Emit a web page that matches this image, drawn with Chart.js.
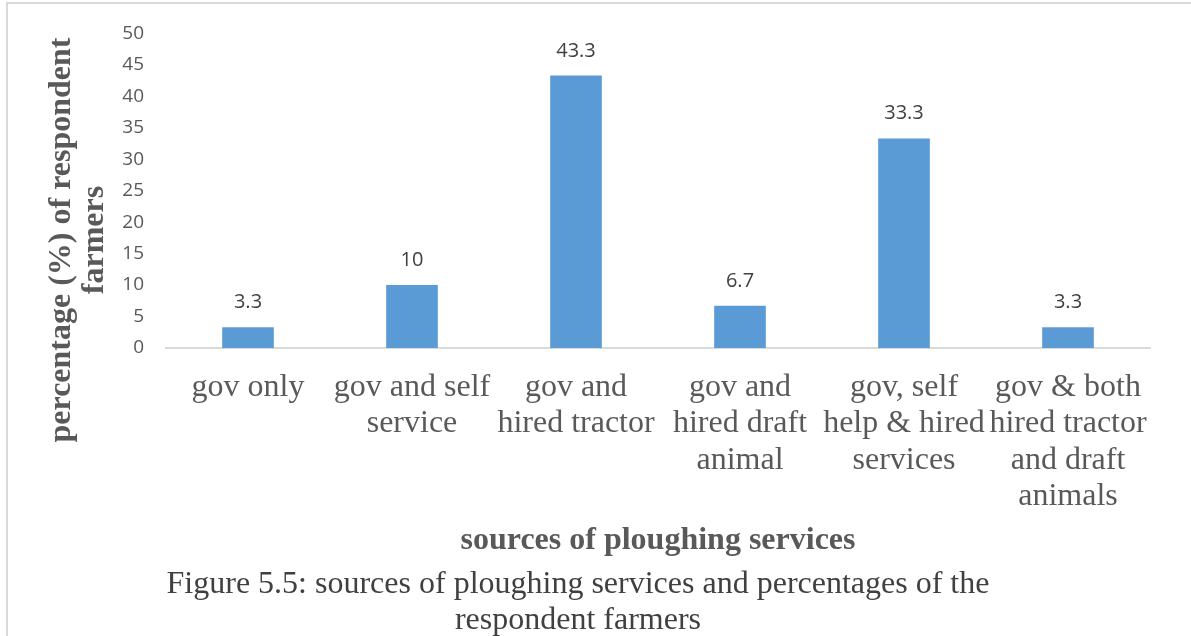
<!DOCTYPE html>
<html>
<head>
<meta charset="utf-8">
<script src="https://cdn.jsdelivr.net/npm/chart.js@4"></script>
<style>
  body { margin: 0; background: #fff; }
  #wrap { position: relative; width: 1191px; height: 636px; }
  #frame { position: absolute; left: 6px; top: 2px; right: 0; bottom: 0;
           border-top: 2px solid #d9d9d9; border-left: 2px solid #d9d9d9; }
  .cap { position: absolute; left: 0; width: 1156px; text-align: center;
         font: 32px "Liberation Serif", "Times New Roman", serif; line-height: 36px; color: #404040; }
  #cap1 { top: 564px; }
  #cap2 { top: 600px; }
</style>
</head>
<body>
<div id="wrap">
  <div id="frame"></div>
  <canvas id="myChart" width="1191" height="636"></canvas>
  <div class="cap" id="cap1">Figure 5.5: sources of ploughing services and percentages of the</div>
  <div class="cap" id="cap2">respondent farmers</div>
</div>
<script>
var categories = [
  ["gov only"],
  ["gov and self", "service"],
  ["gov and", "hired tractor"],
  ["gov and", "hired draft", "animal"],
  ["gov, self", "help & hired", "services"],
  ["gov & both", "hired tractor", "and draft", "animals"]
];
var percentValues = [3.3, 10, 43.3, 6.7, 33.3, 3.3];
var barColor = "#5b9bd5";
var xTitle = "sources of ploughing services";
var yTitle = ["percentage (%) of respondent", "farmers"];

// value labels above each bar
var valueLabels = {
  id: "valueLabels",
  afterDatasetsDraw: function(chart) {
    var ctx = chart.ctx;
    var meta = chart.getDatasetMeta(0);
    ctx.save();
    ctx.font = '20px "Open Sans", sans-serif';
    ctx.fillStyle = "#404040";
    ctx.textAlign = "center";
    ctx.textBaseline = "alphabetic";
    meta.data.forEach(function(bar, i) {
      ctx.fillText(String(percentValues[i]), bar.x, bar.y - 19);
    });
    ctx.restore();
  }
};

// y axis title, placed like the original (off-centre from the plot)
var yAxisTitle = {
  id: "yAxisTitle",
  afterDraw: function(chart) {
    var ctx = chart.ctx;
    ctx.save();
    ctx.font = 'bold 32px "Liberation Serif", serif';
    ctx.fillStyle = "#595959";
    ctx.textAlign = "center";
    ctx.textBaseline = "middle";
    ctx.translate(62, 240);
    ctx.rotate(-Math.PI / 2);
    yTitle.forEach(function(line, i) {
      ctx.fillText(line, 0, i * 33);
    });
    ctx.restore();
  }
};

new Chart("myChart", {
  type: "bar",
  data: {
    labels: categories,
    datasets: [{
      data: percentValues,
      backgroundColor: barColor,
      barPercentage: 0.9,
      categoryPercentage: 0.35
    }]
  },
  options: {
    responsive: false,
    animation: false,
    layout: { padding: { left: 8, right: 41, top: 30, bottom: 76 } },
    plugins: {
      legend: { display: false },
      tooltip: { enabled: false }
    },
    scales: {
      x: {
        grid: { display: false, drawTicks: false },
        border: { color: "#d9d9d9", width: 2 },
        ticks: {
          autoSkip: false, maxRotation: 0, padding: 21,
          color: "#595959",
          font: { family: '"Liberation Serif", serif', size: 32, lineHeight: 1.14 }
        },
        title: {
          display: true, text: xTitle, color: "#595959",
          font: { family: '"Liberation Serif", serif', size: 32, weight: "bold" },
          padding: { top: 0, bottom: 0 }
        },
        afterFit: function(scale) { scale.height = 212; }
      },
      y: {
        min: 0, max: 50,
        grid: { display: false, drawTicks: false },
        border: { display: false },
        ticks: {
          stepSize: 5, padding: 22, color: "#595959",
          font: { family: '"Open Sans", sans-serif', size: 19 }
        },
        afterFit: function(scale) { scale.width = 158; }
      }
    }
  },
  plugins: [valueLabels, yAxisTitle]
});
</script>
</body>
</html>
